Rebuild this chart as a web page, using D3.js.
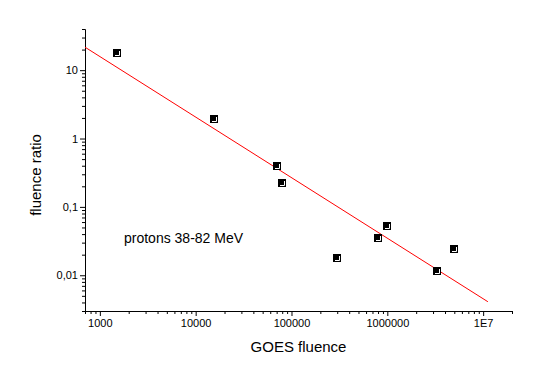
<!DOCTYPE html>
<html lang="en">
<head>
    <meta charset="UTF-8">
    <title>Fluence ratio vs GOES fluence</title>
    <script src="https://d3js.org/d3.v7.min.js"></script>
    <style>
        body { margin: 0; background: #fff; }
        text { font-family: "Liberation Sans", Arial, sans-serif; fill: #000; }
    </style>
</head>
<body>
<div id="chart"></div>
<script>
    // measured points (GOES fluence, fluence ratio)
    var goesFluence = [1500, 15500, 71000, 79000, 295000, 790000, 1000000, 3300000, 5000000];
    var fluenceRatio = [17.7, 1.95, 0.39, 0.225, 0.0177, 0.035, 0.052, 0.0114, 0.0245];

    // fitted line end points
    var fitX = [700, 11200000];
    var fitY = [21.7, 0.0041];

    var xTicks = [1000, 10000, 100000, 1000000, 10000000];
    var xTickLabels = ["1000", "10000", "100000", "1000000", "1E7"];
    var yTicks = [0.01, 0.1, 1, 10];
    var yTickLabels = ["0,01", "0,1", "1", "10"];

    var width = 540, height = 386;
    var margin = {top: 29, right: 28, bottom: 75, left: 85};

    var svg = d3.select("#chart").append("svg")
        .attr("width", width)
        .attr("height", height);

    var x = d3.scaleLog()
        .domain([700, 2e7])
        .range([margin.left, width - margin.right]);
    var y = d3.scaleLog()
        .domain([0.003, 40])
        .range([height - margin.bottom, margin.top]);

    // minor ticks 2..9 of every decade inside the domain
    function minorTicks(scale) {
        var d = scale.domain(), out = [];
        for (var e = Math.floor(Math.log10(d[0])); e <= Math.ceil(Math.log10(d[1])); e++) {
            for (var m = 2; m <= 9; m++) {
                var v = m * Math.pow(10, e);
                if (v >= d[0] && v <= d[1]) out.push(v);
            }
        }
        return out;
    }

    var plotBottom = height - margin.bottom;

    // x axis
    svg.append("g")
        .attr("transform", "translate(0," + plotBottom + ")")
        .call(d3.axisBottom(x).tickValues(minorTicks(x)).tickSize(3).tickFormat("").tickSizeOuter(0));
    var xMajor = svg.append("g")
        .attr("transform", "translate(0," + plotBottom + ")")
        .call(d3.axisBottom(x).tickValues(xTicks).tickSize(5).tickSizeOuter(0)
            .tickFormat(function (d, i) { return xTickLabels[i]; }));
    xMajor.selectAll("text").attr("y", 8).style("font-size", "11px");

    // y axis
    svg.append("g")
        .attr("transform", "translate(" + margin.left + ",0)")
        .call(d3.axisLeft(y).tickValues(minorTicks(y)).tickSize(3).tickFormat("").tickSizeOuter(0));
    var yMajor = svg.append("g")
        .attr("transform", "translate(" + margin.left + ",0)")
        .call(d3.axisLeft(y).tickValues(yTicks).tickSize(5).tickSizeOuter(0)
            .tickFormat(function (d, i) { return yTickLabels[i]; }));
    yMajor.selectAll("text").attr("x", -7).style("font-size", "11px");

    svg.selectAll(".domain").attr("stroke", "#000");
    svg.selectAll(".tick line").attr("stroke", "#000");

    // fit line
    var fitData = fitX.map(function (d, i) { return [d, fitY[i]]; });
    svg.append("path")
        .datum(fitData)
        .attr("fill", "none")
        .attr("stroke", "#ff0000")
        .attr("stroke-width", 1)
        .attr("d", d3.line()
            .x(function (d) { return x(d[0]); })
            .y(function (d) { return y(d[1]); }));

    // markers: black square with white inner corner
    var pts = goesFluence.map(function (d, i) { return [d, fluenceRatio[i]]; });
    var mk = svg.selectAll(".mk").data(pts).enter().append("g")
        .attr("class", "mk")
        .attr("transform", function (d) {
            return "translate(" + Math.round(x(d[0])) + "," + Math.round(y(d[1])) + ")";
        });
    mk.append("rect")
        .attr("x", -4).attr("y", -4)
        .attr("width", 8).attr("height", 8)
        .attr("fill", "#000");
    mk.append("path")
        .attr("d", "M2.5,-2 V2.5 H-2")
        .attr("fill", "none")
        .attr("stroke", "#fff")
        .attr("stroke-width", 1);

    // axis titles
    svg.append("text")
        .attr("x", (margin.left + width - margin.right) / 2)
        .attr("y", 352)
        .attr("text-anchor", "middle")
        .style("font-size", "15px")
        .text("GOES fluence");

    svg.append("text")
        .attr("transform", "translate(41," + 175 + ") rotate(-90)")
        .attr("text-anchor", "middle")
        .style("font-size", "15px")
        .text("fluence ratio");

    svg.append("text")
        .attr("x", 124)
        .attr("y", 243)
        .style("font-size", "14px")
        .text("protons 38-82 MeV");
</script>
</body>
</html>
